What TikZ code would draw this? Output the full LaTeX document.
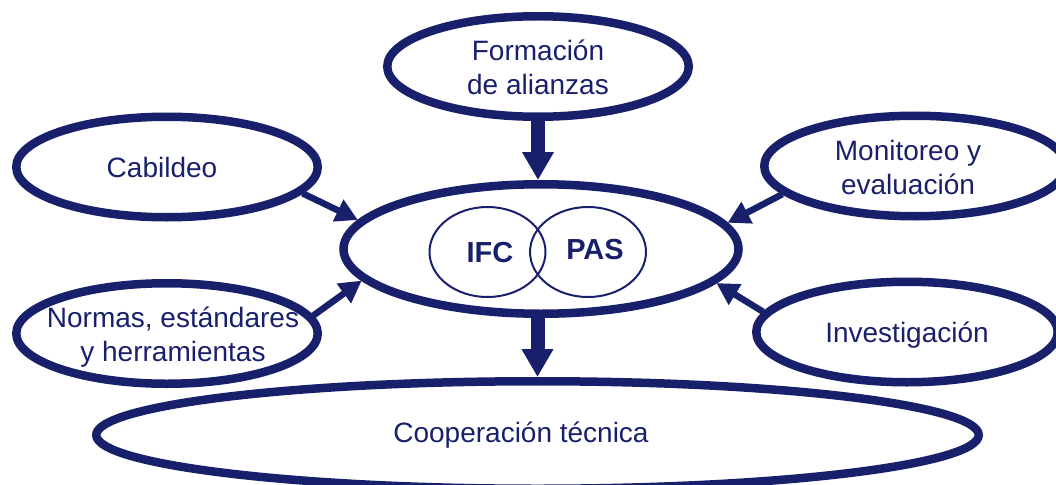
\documentclass[tikz,border=0pt]{standalone}
\usepackage{fontspec}
\setmainfont{Liberation Sans}
\usetikzlibrary{shapes.geometric,arrows.meta}
\definecolor{navy}{HTML}{18206C}
\tikzset{
  blob/.style 2 args={ellipse, draw=navy, line width=8.5pt, inner sep=0pt,
    minimum width=#1, minimum height=#2},
  ring/.style={ellipse, draw=navy, line width=2pt, inner sep=0pt,
    minimum width=116pt, minimum height=90pt},
  lbl/.style={text=navy, align=center, inner sep=0pt,
    font=\fontsize{28}{34}\selectfont},
  bold/.style={text=navy, inner sep=0pt, font=\fontsize{29}{34}\selectfont\bfseries},
  bigarr/.style={draw=navy, line width=14pt, -{Triangle[width=30pt,length=28pt]}},
  smallarr/.style={draw=navy, line width=6.5pt, -{Triangle[width=23pt,length=22pt]}}
}
\begin{document}
\begin{tikzpicture}[x=1pt,y=-1pt]
\useasboundingbox (0,0) rectangle (1056,484);
% ellipses
\node[blob={301.5pt}{100.5pt}] (top) at (538,66.5) {};
\node[blob={395pt}{129.5pt}] (ctr) at (541,249) {};
\node[blob={301.5pt}{100.5pt}] (cab) at (167,167) {};
\node[blob={301.5pt}{100.5pt}] (mon) at (915,166) {};
\node[blob={301.5pt}{100.5pt}] (norm) at (167,333.5) {};
\node[blob={301.5pt}{100.5pt}] (inv) at (907,332) {};
\node[blob={882.5pt}{107.5pt}] (coop) at (537.5,435) {};
\node[ring] (ifc) at (487.5,252) {};
\node[ring] (pas) at (588,252) {};
% texts
\node[lbl] (ttop) at (538,67.5) {Formación\\de alianzas};
\node[lbl] (tcab) at (162,167) {Cabildeo};
\node[lbl] (tmon) at (908,167.5) {Monitoreo y\\evaluación};
\node[lbl] (tnorm) at (173,337) {Normas, estándares\\y herramientas};
\node[lbl] (tinv) at (907,335) {Investigación};
\node[lbl] (tcoop) at (521,435) {Cooperación técnica};
\node[bold] (tifc) at (490,252.5) {IFC};
\node[bold] (tpas) at (595,250) {PAS};
% arrows
\draw[bigarr] (top.south) -- (top.south |- ctr.north);
\draw[bigarr] (coop.north |- ctr.south) -- (coop.north);
\draw[smallarr] (cab.-11.3) -- (ctr.171.9);
\draw[smallarr] (norm.7.8) -- (ctr.190);
\draw[smallarr] (mon.192.9) -- (ctr.8.6);
\draw[smallarr] (inv.172.6) -- (ctr.-11.2);
\end{tikzpicture}
\end{document}
